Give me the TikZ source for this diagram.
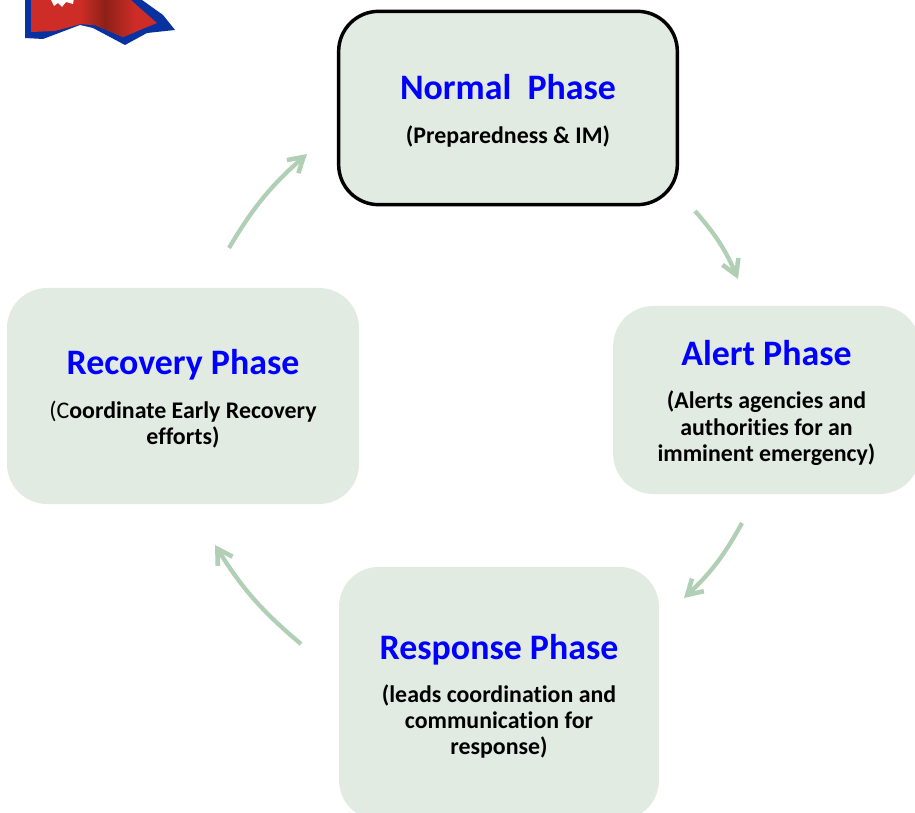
\documentclass[tikz,border=0pt]{standalone}
\usepackage{fontspec}
\setmainfont[RawFeature={-liga;-clig}]{Carlito}
\usetikzlibrary{arrows.meta}
\definecolor{boxfill}{RGB}{226,235,226}
\definecolor{arrowgreen}{RGB}{176,207,180}
\definecolor{titleblue}{RGB}{0,0,255}
\definecolor{flagred}{RGB}{205,45,38}
\definecolor{flagdark}{RGB}{140,33,24}
\definecolor{flagblue}{RGB}{8,50,160}
\tikzset{
  phase/.style={fill=boxfill,rounded corners=30pt,inner sep=0pt,align=center,font=\bfseries\fontsize{17.9}{19.6}\selectfont,text=black},
  flow/.style={draw=arrowgreen,line width=3.2pt,-{Straight Barb[length=11pt,width=13pt,line width=3.4pt]}}
}
\newcommand{\phasetitle}[1]{\rule{0pt}{23pt}{\color{titleblue}\fontsize{26.9}{28}\selectfont #1}}
\begin{document}
\begin{tikzpicture}[x=0.75pt,y=-0.75pt]
\useasboundingbox (0,0) rectangle (915,813);
\clip (0,0) rectangle (915,813);
% flag
\fill[flagblue] (25,-5) -- (25,38) -- (43,39) -- (80,25) -- (93,28) -- (125,45) -- (147,33) -- (175,30) -- (163,15) -- (135,-5) -- cycle;
\begin{scope}
\clip (31,-5) -- (31,32) -- (55,31) -- (81,24) -- (95,25) -- (123,37) -- (157,23) -- (125,-5) -- cycle;
\fill[flagred] (25,-5) rectangle (175,45);
\shade[left color=flagred,right color=flagdark] (80,-5) rectangle (105,45);
\shade[left color=flagdark,right color=flagred] (105,-5) rectangle (135,45);
\end{scope}
\fill[white] (50,-2) -- (54,6) -- (58,3) -- (62,7) -- (66,2) -- (73,4) -- (74,-2) -- cycle;
% boxes
\node[phase,minimum width=254pt,minimum height=145pt,draw=black,line width=2.6pt] (normal) at (508,108)
  {\phasetitle{Normal\ \ Phase}\\[13pt](Preparedness \& IM)};
\node[phase,minimum width=230pt,minimum height=141pt] (alert) at (766.5,400)
  {\phasetitle{Alert Phase}\\[13pt](Alerts agencies and\\authorities for an\\imminent emergency)};
\node[phase,minimum width=240pt,minimum height=190pt] (response) at (499,693.5)
  {\phasetitle{Response Phase}\\[13pt](leads coordination and\\communication for\\response)};
\node[phase,minimum width=264pt,minimum height=162pt] (recovery) at (183,396)
  {\phasetitle{Recovery Phase}\\[13pt]{\mdseries(C}oordinate Early Recovery\\efforts)};
% connector ends
\coordinate (n1) at (695,211); \coordinate (a1) at (738,279);
\coordinate (a2) at (742,523); \coordinate (r1) at (684,598);
\coordinate (r2) at (301,644); \coordinate (c1) at (215,545);
\coordinate (c2) at (229,248); \coordinate (n2) at (307,154);
\draw[flow] (n1) to[bend left=9] (a1);
\draw[flow] (a2) to[bend left=9] (r1);
\draw[flow] (r2) to[bend left=9] (c1);
\draw[flow] (c2) to[bend left=9] (n2);
\end{tikzpicture}
\end{document}
